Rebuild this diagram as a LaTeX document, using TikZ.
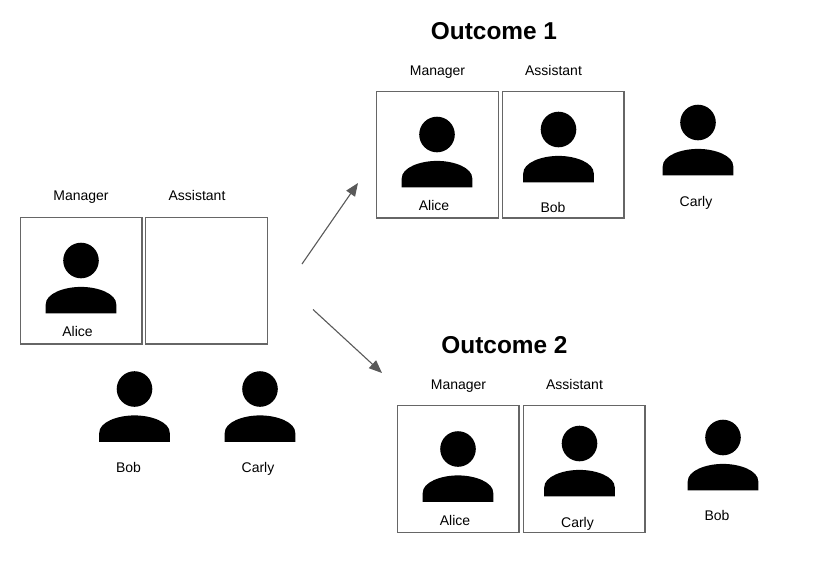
\documentclass[tikz,border=0pt]{standalone}
\usepackage{fontspec}
\setmainfont{Liberation Sans}
\usetikzlibrary{arrows.meta}
\begin{document}
\begin{tikzpicture}
    [x=1pt,y=-1pt,
     slot/.style={rectangle,draw=black!60,line width=1.2pt,minimum width=121.8pt,minimum height=126.8pt,inner sep=0pt},
     label/.style={font=\fontsize{14}{16}\selectfont,inner sep=0pt,text height=11pt,text depth=1pt},
     title/.style={font=\bfseries\fontsize{24.4}{28}\selectfont,inner sep=0pt,text height=17pt,text depth=1pt},
     link/.style={draw=black!65,line width=1.1pt,-{Triangle[length=13pt,width=10.5pt]}},
     pics/person/.style={code={
       \fill[black] (0,0) circle (17.8);
       \fill[black] (-35.3,52.8) -- (-35.3,44) .. controls (-35.3,33) and (-17,26.4) .. (0,26.4)
         .. controls (17,26.4) and (35.3,33) .. (35.3,44) -- (35.3,52.8) -- cycle;
     }}]
    \useasboundingbox (0,0) rectangle (815,576);

    % start
    \node[slot] (S1) at (81,280.5) {};
    \node[slot] (S2) at (206.5,280.5) {};
    \node[label] (SM) at (81,195) {Manager};
    \node[label] (SA) at (197,195) {Assistant};
    \pic (SP1) at (81,260.5) {person};
    \pic (SP2) at (134.5,389) {person};
    \pic (SP3) at (260,389) {person};
    \node[label] (SN1) at (77.5,331) {Alice};
    \node[label] (SN2) at (128.5,467) {Bob};
    \node[label] (SN3) at (258,467) {Carly};

    % outcome 1
    \node[title] (T1) at (494,31) {Outcome 1};
    \node[slot] (A1) at (437.5,154.5) {};
    \node[slot] (A2) at (563,154.5) {};
    \node[label] (AM) at (437.5,70) {Manager};
    \node[label] (AA) at (553.5,70) {Assistant};
    \pic (AP1) at (437,134.5) {person};
    \pic (AP2) at (558.5,129.5) {person};
    \pic (AP3) at (698,122.5) {person};
    \node[label] (AN1) at (434,205) {Alice};
    \node[label] (AN2) at (553,207) {Bob};
    \node[label] (AN3) at (696,201) {Carly};

    % outcome 2
    \node[title] (T2) at (504.5,345) {Outcome 2};
    \node[slot] (B1) at (458,469) {};
    \node[slot] (B2) at (584,469) {};
    \node[label] (BM) at (458.5,384) {Manager};
    \node[label] (BA) at (574.5,384) {Assistant};
    \pic (BP1) at (458,449) {person};
    \pic (BP2) at (579.5,443.5) {person};
    \pic (BP3) at (723,437.5) {person};
    \node[label] (BN1) at (455,520) {Alice};
    \node[label] (BN2) at (577.5,522) {Carly};
    \node[label] (BN3) at (717,515) {Bob};

    \coordinate (L1) at (302,264);
    \coordinate (E1) at (358,183);
    \coordinate (L2) at (313,309.5);
    \coordinate (E2) at (382,373);
    \draw[link] (L1) -- (E1);
    \draw[link] (L2) -- (E2);
  \end{tikzpicture}
\end{document}
